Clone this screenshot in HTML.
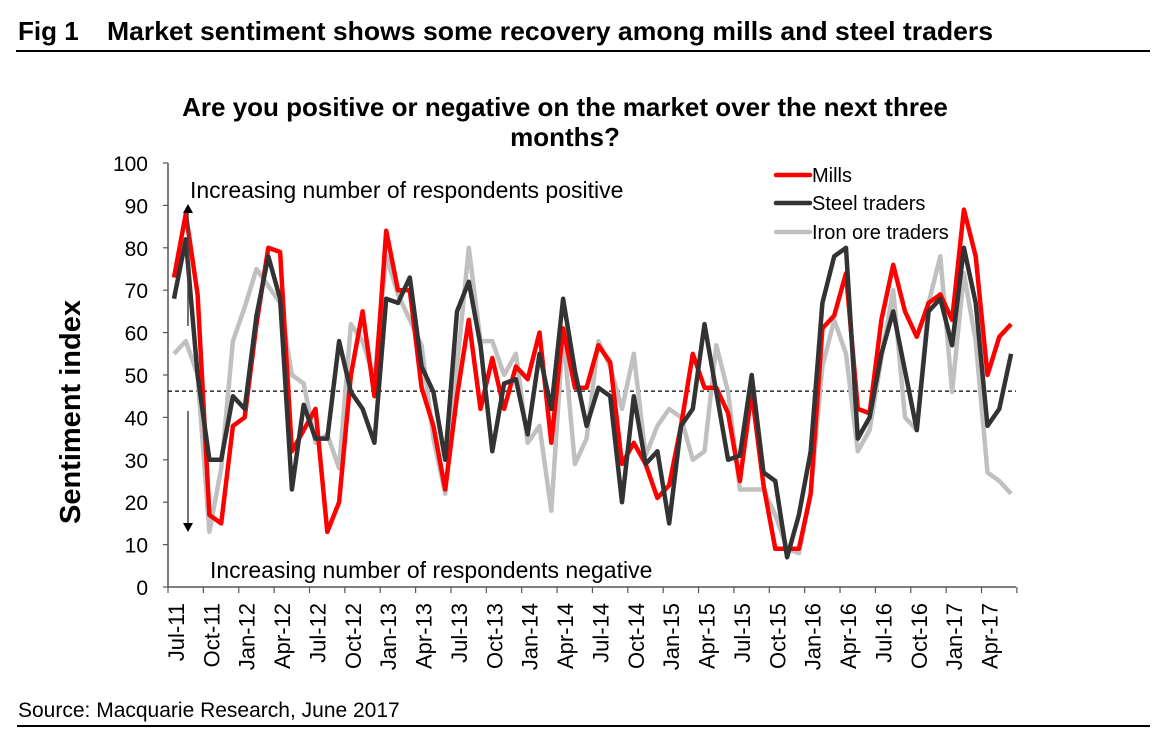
<!DOCTYPE html>
<html><head><meta charset="utf-8"><style>
html,body{margin:0;padding:0;background:#fff;}
body{width:1160px;height:739px;overflow:hidden;font-family:"Liberation Sans",Arial,sans-serif;}
</style></head><body>
<svg id="chart" width="1160" height="739" xmlns="http://www.w3.org/2000/svg" font-family="Liberation Sans, Arial, sans-serif">
<text x="18" y="40" font-size="26" font-weight="bold">Fig 1</text>
<text x="107" y="40" font-size="26" font-weight="bold" textLength="886" lengthAdjust="spacingAndGlyphs">Market sentiment shows some recovery among mills and steel traders</text>
<line x1="16" y1="51" x2="1150" y2="51" stroke="#000" stroke-width="2"/>
<text x="565" y="116" font-size="26" font-weight="bold" text-anchor="middle">Are you positive or negative on the market over the next three</text>
<text x="565" y="146" font-size="26" font-weight="bold" text-anchor="middle">months?</text>
<text transform="translate(80,412) rotate(-90)" font-size="29" font-weight="bold" text-anchor="middle">Sentiment index</text>
<g id="axes"></g>
<g id="series"></g>
<text x="190" y="198" font-size="23">Increasing number of respondents positive</text>
<text x="210" y="578" font-size="23">Increasing number of respondents negative</text>
<line x1="188" y1="326" x2="188" y2="212" stroke="#444" stroke-width="1.5"/>
<polygon points="183,213 193,213 188,204" fill="#000"/>
<line x1="188" y1="411" x2="188" y2="524" stroke="#444" stroke-width="1.5"/>
<polygon points="183,523 193,523 188,532" fill="#000"/>
<g>
<line x1="776" y1="175" x2="810" y2="175" stroke="#ff0000" stroke-width="4.5" stroke-linecap="round"/>
<text x="812" y="182" font-size="20">Mills</text>
<line x1="776" y1="203" x2="810" y2="203" stroke="#333" stroke-width="4.5" stroke-linecap="round"/>
<text x="812" y="210" font-size="20">Steel traders</text>
<line x1="776" y1="232" x2="810" y2="232" stroke="#c0c0c0" stroke-width="4.5" stroke-linecap="round"/>
<text x="812" y="239" font-size="20">Iron ore traders</text>
</g>
<text x="18" y="717" font-size="21">Source: Macquarie Research, June 2017</text>
<line x1="17" y1="726" x2="1150" y2="726" stroke="#000" stroke-width="2"/>
</svg>
<script>
const yTicks=[0,10,20,30,40,50,60,70,80,90,100];
const xTickLabels=["Jul-11","Oct-11","Jan-12","Apr-12","Jul-12","Oct-12","Jan-13","Apr-13","Jul-13","Oct-13","Jan-14","Apr-14","Jul-14","Oct-14","Jan-15","Apr-15","Jul-15","Oct-15","Jan-16","Apr-16","Jul-16","Oct-16","Jan-17","Apr-17"];
const mills=[73,88,69,17,15,38,40,62,80,79,32,37,42,13,20,50,65,45,84,70,70,47,38,23,45,63,42,54,42,52,49,60,34,61,47,47,57,53,29,34,29,21,24,38,55,47,47,41,25,46,24,9,9,9,22,61,64,74,42,41,63,76,65,59,67,69,63,89,78,50,59,62];
const steel=[68,82,50,30,30,45,42,64,78,68,23,43,35,35,58,46,42,34,68,67,73,52,46,30,65,72,57,32,48,49,36,55,42,68,51,38,47,45,20,45,29,32,15,38,42,62,46,30,31,50,27,25,7,17,32,67,78,80,35,40,55,65,51,37,65,68,57,80,67,38,42,55];
const iron=[55,58,50,13,28,58,66,75,71,67,50,48,34,36,28,62,58,49,78,69,63,57,35,22,52,80,58,58,50,55,34,38,18,60,29,35,58,52,42,55,31,38,42,40,30,32,57,46,23,23,23,17,9,8,22,52,63,55,32,37,54,70,40,37,67,78,46,74,58,27,25,22];
const benchmark=[46.2];
const NS="http://www.w3.org/2000/svg";
const X0=168,X1=1016,Y0=587,Y1=163;
const step=11.79;
function xs(i){return 174+i*step;}
function ys(v){return Y0-(v-0)/(100)*(Y0-Y1);}
function mk(tag,attrs,parent){const e=document.createElementNS(NS,tag);for(const k in attrs)e.setAttribute(k,attrs[k]);parent.appendChild(e);return e;}
const axes=document.getElementById('axes');
let e=mk('line',{x1:X0,y1:Y1,x2:X0,y2:Y0,stroke:'#555','stroke-width':1.5},axes);


e=mk('line',{x1:X0,y1:Y0,x2:X1,y2:Y0,stroke:'#555','stroke-width':1.5},axes);


yTicks.forEach(v=>{
  const t=mk('line',{x1:X0-5,y1:ys(v),x2:X0,y2:ys(v),stroke:'#555','stroke-width':1.2},axes);
  
  
  const l=mk('text',{x:148,y:ys(v)+8,'font-size':21,'text-anchor':'end'},axes);
  l.textContent=v;
  
  
});
for(let k=0;k<=mills.length/3;k++){
  const tx=X0+k*3*step;
  const t=mk('line',{x1:tx,y1:Y0,x2:tx,y2:Y0+6,stroke:'#555','stroke-width':1.2},axes);
  
  
}
xTickLabels.forEach((lab,k)=>{
  const cx=xs(k*3)+2;
  const l=mk('text',{transform:`translate(${cx+8},603) rotate(-90)`,'font-size':22,'text-anchor':'end'},axes);
  l.textContent=lab;
  
  
});
e=mk('line',{x1:X0,y1:ys(benchmark[0]),x2:X1,y2:ys(benchmark[0]),stroke:'#000','stroke-width':1.2,'stroke-dasharray':'4,3'},axes);


const ser=document.getElementById('series');
function draw(arr,color,name){
  const p=mk('polyline',{points:arr.map((v,i)=>xs(i).toFixed(1)+','+ys(v).toFixed(1)).join(' '),fill:'none',stroke:color,'stroke-width':4.5,'stroke-linejoin':'round'},ser);
  
  
}
draw(iron,'#c0c0c0','iron-ore-traders-line');
draw(mills,'#ff0000','mills-line');
draw(steel,'#333333','steel-traders-line');
</script>
</body></html>
